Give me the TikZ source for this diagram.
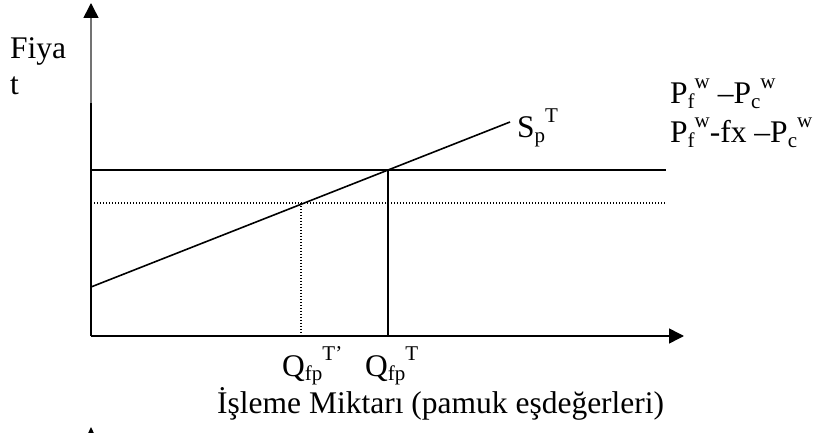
\documentclass[tikz,border=0pt]{standalone}
\usepackage{fontspec}
\setmainfont{Liberation Serif}
\usetikzlibrary{arrows.meta}
\newcommand\lowr[1]{\raisebox{-0.15em}{\fontsize{21}{21}\selectfont #1}}
\newcommand\uppr[1]{\raisebox{0.5em}{\fontsize{21}{21}\selectfont #1}}
\tikzset{
  axisline/.style={line width=1.6pt,-{Triangle[length=15pt,width=15pt]}},
  solidline/.style={line width=1.6pt},
  dotline/.style={line width=1.3pt,dash pattern=on 1.3pt off 1.7pt},
  lbl/.style={inner sep=0pt,anchor=base west,font=\fontsize{31.5}{36}\selectfont}
}
\begin{document}
\begin{tikzpicture}[x=1pt,y=-1pt]
\useasboundingbox (0,0) rectangle (815,433);
\clip (0,0) rectangle (815,433);
% coordinates
\coordinate (O) at (91,336);
\coordinate (ytop) at (91,3);
\coordinate (ygray) at (91,103);
\coordinate (xend) at (684,336);
\coordinate (hA) at (91,170);
\coordinate (hB) at (666,170);
\coordinate (dA) at (91,203);
\coordinate (dB) at (666,203);
\coordinate (sA) at (91,287);
\coordinate (sB) at (510,122);
\coordinate (E) at (388,170);
\coordinate (Eb) at (388,336);
\coordinate (F) at (301,203);
\coordinate (Fb) at (301,336);
% axes
\draw[axisline] (O) -- (xend);
\draw[line width=1.6pt] (O) -- (ygray);
\draw[line width=1.2pt,black!55] (ygray) -- (91,16);
\draw[axisline] (91,17) -- (ytop);
% second graph arrow (cut off)
\fill (91,427) -- (84,442) -- (98,442) -- cycle;
% lines
\draw[solidline] (hA) -- (hB);
\draw[dotline] (dA) -- (dB);
\draw[solidline] (sA) -- (sB);
\draw[solidline] (E) -- (Eb);
\draw[dotline] (F) -- (Fb);
% labels
\node[lbl] (fiya) at (10,59) {Fiya};
\node[lbl] (fiyat) at (10,95) {t};
\node[lbl] (sp) at (517,138) {S\lowr{p}\uppr{T}};
\node[lbl] (pw1) at (670,104) {P\lowr{f}\uppr{w} –P\lowr{c}\uppr{w}};
\node[lbl] (pw2) at (670,143) {P\lowr{f}\uppr{w}-fx –P\lowr{c}\uppr{w}};
\node[lbl] (q1) at (282,376) {Q\lowr{fp}\uppr{T’}};
\node[lbl] (q2) at (365,376) {Q\lowr{fp}\uppr{T}};
\node[lbl] (xl) at (217,413) {İşleme Miktarı (pamuk eşdeğerleri)};
\end{tikzpicture}
\end{document}
